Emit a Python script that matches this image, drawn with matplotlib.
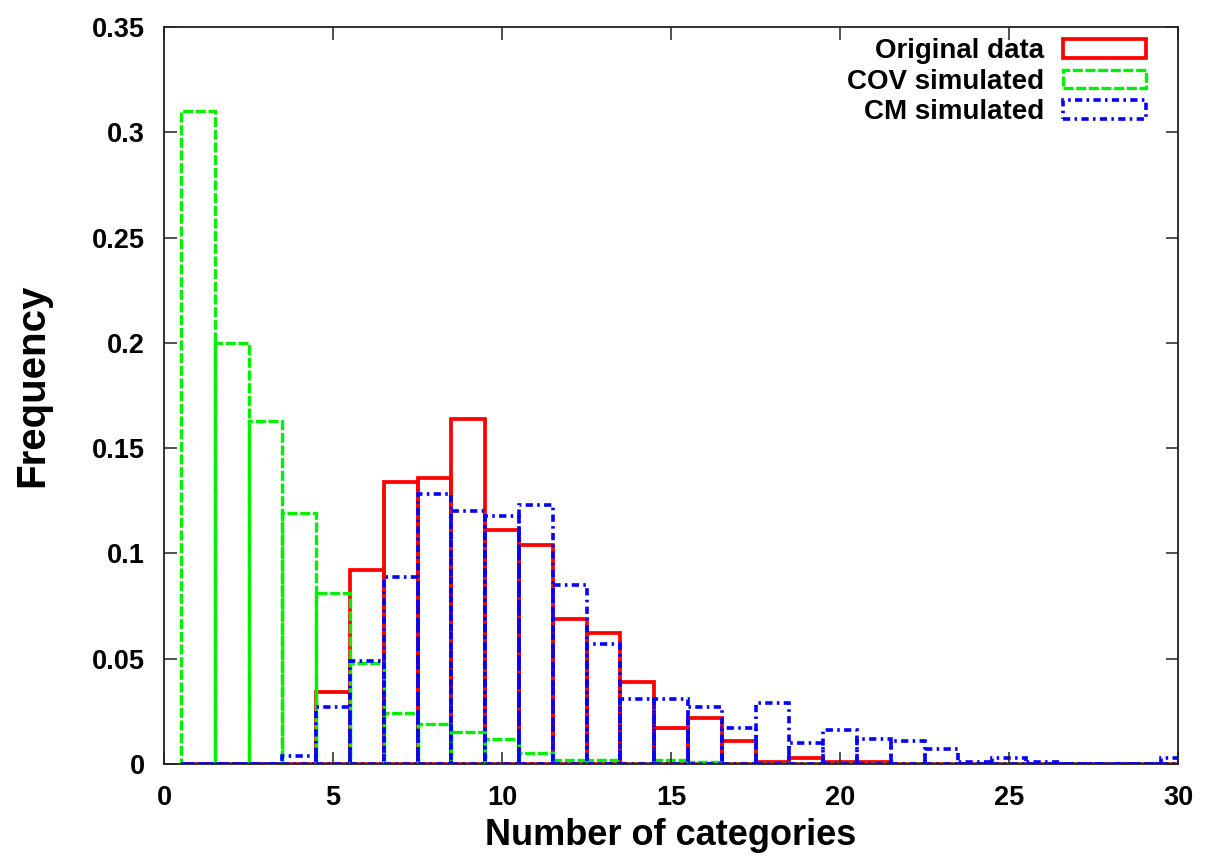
import matplotlib
matplotlib.use("Agg")
import matplotlib.pyplot as plt
import numpy as np

# Histogram bins (number of categories) and relative frequencies
categories = list(range(1, 31))

original = [0.000, 0.000, 0.000, 0.000, 0.034, 0.092, 0.134, 0.136, 0.164, 0.111,
            0.104, 0.069, 0.062, 0.039, 0.017, 0.022, 0.011, 0.001, 0.003, 0.001,
            0.001, 0.000, 0.000, 0.000, 0.000, 0.000, 0.000, 0.000, 0.000, 0.000]

cov_simulated = [0.310, 0.200, 0.163, 0.119, 0.081, 0.048, 0.024, 0.019, 0.015, 0.012,
                 0.005, 0.002, 0.002, 0.000, 0.002, 0.001, 0.000, 0.000, 0.000, 0.000,
                 0.000, 0.000, 0.000, 0.000, 0.000, 0.000, 0.000, 0.000, 0.000, 0.000]

cm_simulated = [0.000, 0.000, 0.000, 0.004, 0.027, 0.049, 0.089, 0.128, 0.120, 0.118,
                0.123, 0.085, 0.057, 0.031, 0.031, 0.027, 0.017, 0.029, 0.010, 0.016,
                0.012, 0.011, 0.007, 0.001, 0.003, 0.001, 0.000, 0.000, 0.000, 0.003]

series_labels = ["Original data", "COV simulated", "CM simulated"]
x_ticks = [0, 5, 10, 15, 20, 25, 30]
y_ticks = [0, 0.05, 0.1, 0.15, 0.2, 0.25, 0.3, 0.35]
y_tick_labels = ["0", "0.05", "0.1", "0.15", "0.2", "0.25", "0.3", "0.35"]

plt.rcParams["font.family"] = ["Liberation Sans", "DejaVu Sans"]
plt.rcParams["font.weight"] = "bold"

fig = plt.figure(figsize=(12.05, 8.59), dpi=100)
ax = fig.add_axes([0.1361, 0.1106, 0.8415, 0.858])

styles = [
    dict(edgecolor="#ff0000", linestyle="-", lw=2.7),
    dict(edgecolor="#00f000", linestyle=(0, (3.0, 0.8)), lw=2.4),
    dict(edgecolor="#0000ff", linestyle=(0, (2.0, 1.2, 0.7, 1.2)), lw=2.6),
]

handles = []
for vals, st in zip([original, cov_simulated, cm_simulated], styles):
    bars = ax.bar(categories, vals, width=1.0, fill=False, **st)
    handles.append(bars.patches[0])

ax.set_xlim(0, 30)
ax.set_ylim(0, 0.35)
ax.set_xticks(x_ticks)
ax.set_yticks(y_ticks)
ax.set_yticklabels(y_tick_labels)

ax.tick_params(axis="both", direction="in", length=9, width=1.1,
               top=True, right=True, labelsize=19.5, colors="#222222")
ax.tick_params(axis="x", pad=15, labelcolor="black")
ax.tick_params(axis="y", pad=14, labelcolor="black")
for s in ax.spines.values():
    s.set_linewidth(1.3)
    s.set_color("#222222")

ax.set_xlabel("Number of categories", fontsize=26, fontweight="bold", labelpad=5)
ax.set_ylabel("Frequency", fontsize=29, fontweight="bold")
ax.yaxis.set_label_coords(-0.1114, 0.514)

leg = ax.legend(handles, series_labels, loc="upper right",
                bbox_to_anchor=(0.9684, 0.985), frameon=False,
                markerfirst=False, fontsize=20, handlelength=3.0,
                handleheight=0.66, handletextpad=0.65, labelspacing=0.17,
                borderpad=0, borderaxespad=0)

fig.savefig("out.png", dpi=100)
